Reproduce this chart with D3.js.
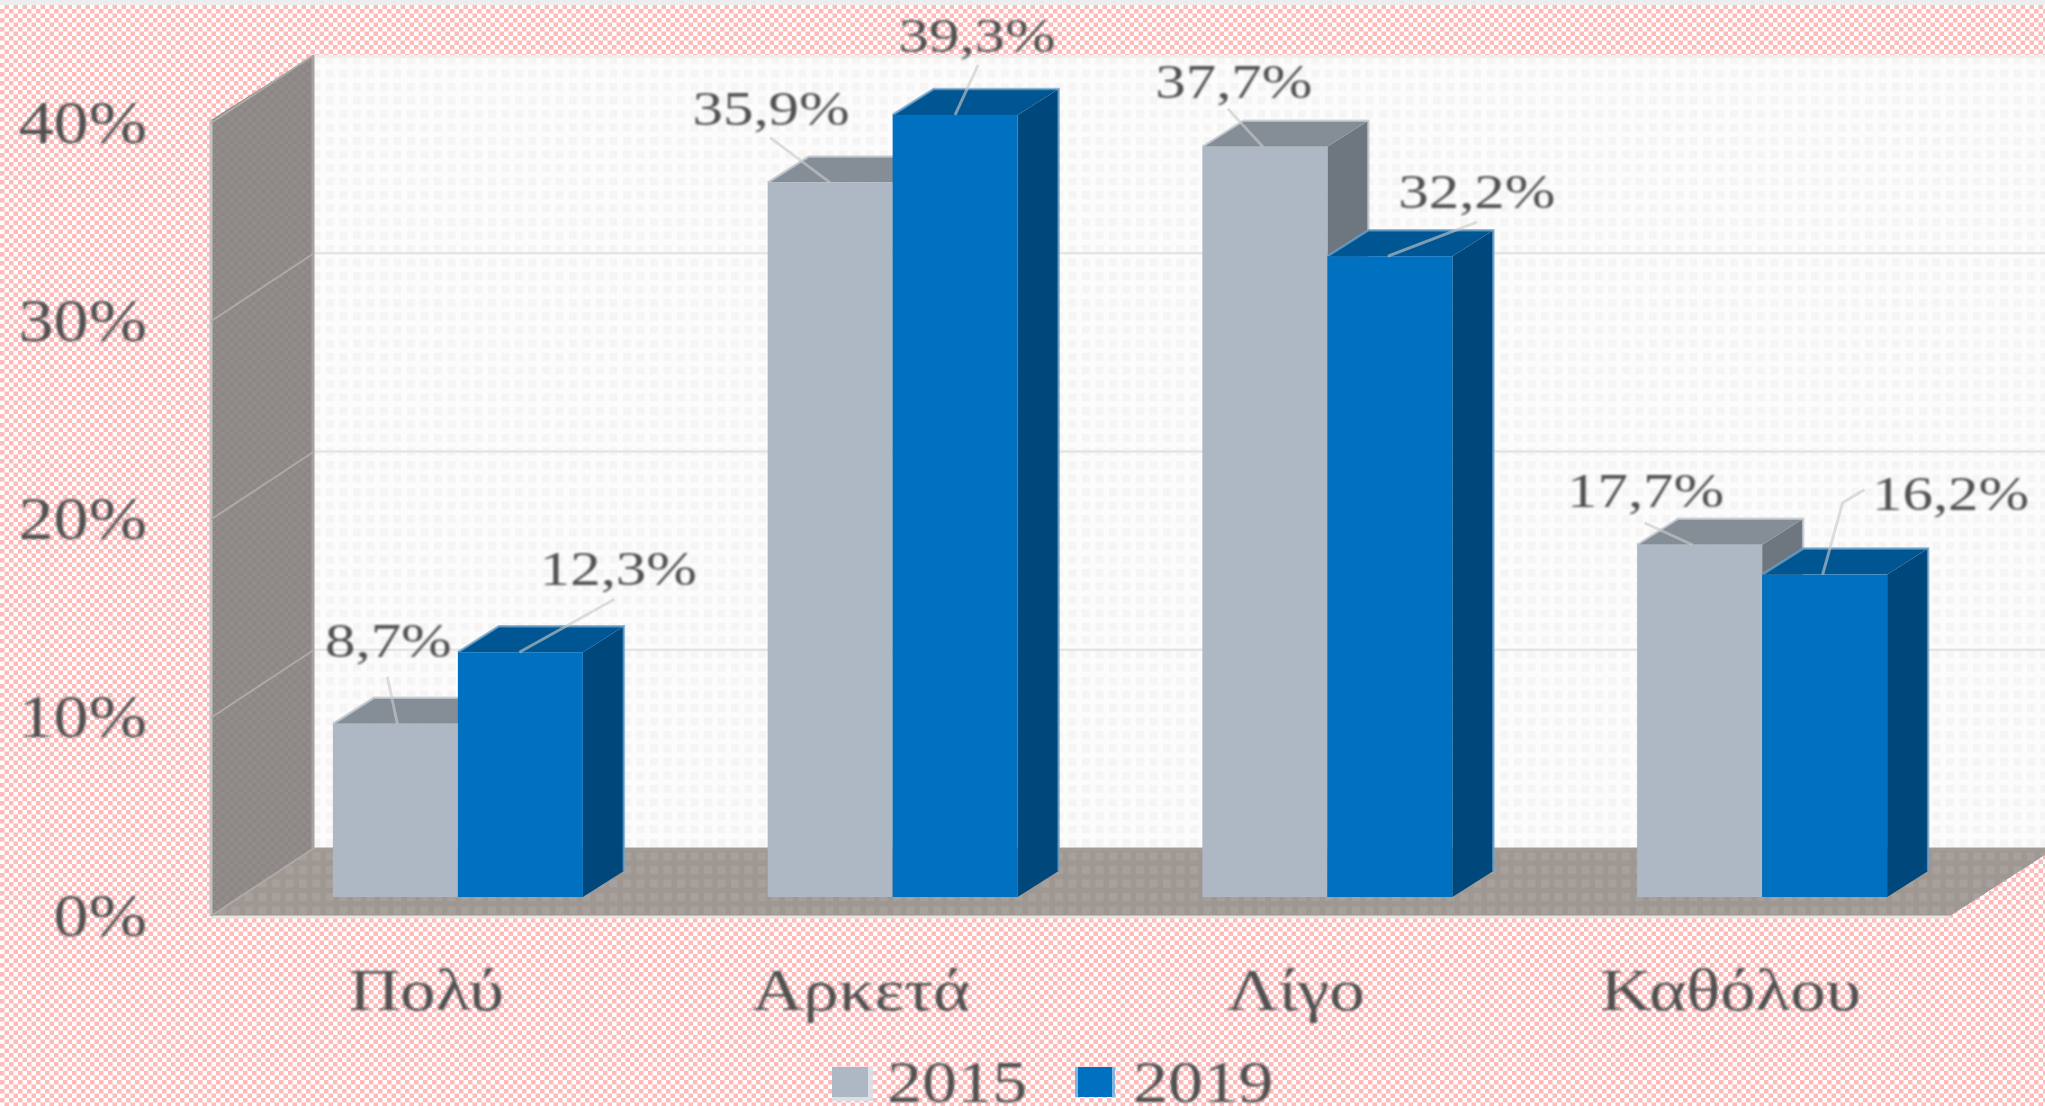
<!DOCTYPE html>
<html><head><meta charset="utf-8">
<script src="https://cdn.jsdelivr.net/npm/d3@7"></script>
<style>html,body{margin:0;padding:0;background:#fff;overflow:hidden}svg{display:block}
text{font-family:"Liberation Serif",serif;fill:#515151}</style></head>
<body><svg id="c" width="2045" height="1106"></svg>
<script>
const categories = ["Πολύ","Αρκετά","Λίγο","Καθόλου"];
const years = ["2015","2019"];
const values2015 = [8.7,35.9,37.7,17.7];
const values2019 = [12.3,39.3,32.2,16.2];
const valueTicks = [0,10,20,30,40];
const labelOffsets2015 = [[-7,-67],[-59,-58],[-31,-49],[-54,-38]];
const labelOffsets2019 = [[98,-67],[22,-63],[87,-48],[126,-65]];
const leaders2015 = [[[2,0],[-8,-47]],[[0,0],[-60,-45]],[[-2,0],[-37,-38]],[[-7,0],[-55,-22]]];
const leaders2019 = [[[-1,0],[94,-53]],[[0,0],[23,-50]],[[-2,0],[87,-34]],[[-2,0],[18,-72],[40,-85]]];

const W=2045,H=1106;
const svg=d3.select("#c");
const defs=svg.append("defs");
function checker(id,a,b,s){const p=defs.append("pattern").attr("id",id).attr("width",2*s).attr("height",2*s).attr("patternUnits","userSpaceOnUse");
 p.append("rect").attr("width",2*s).attr("height",2*s).attr("fill",a);
 p.append("rect").attr("width",s).attr("height",s).attr("fill",b);
 p.append("rect").attr("x",s).attr("y",s).attr("width",s).attr("height",s).attr("fill",b);}
function dots(id,a,b,t,s){const p=defs.append("pattern").attr("id",id).attr("width",t).attr("height",t).attr("patternUnits","userSpaceOnUse");
 p.append("rect").attr("width",t).attr("height",t).attr("fill",a);
 p.append("rect").attr("x",2).attr("y",2).attr("width",s).attr("height",s).attr("fill",b);}
checker("pink","#ffffff","#ffbaba",4.5);
checker("sideP","#928d8a","#8c8784",4.5);
dots("wall","#fcfcfc","#f7f5f4",13.5,8);
dots("floor","#9e9792","#a7a19d",13.5,8);
defs.append("filter").attr("id","soft").attr("x","-5%").attr("y","-20%").attr("width","110%").attr("height","140%")
 .append("feGaussianBlur").attr("stdDeviation",0.8);

// scales
const x=d3.scaleBand().domain(categories).range([211,1950]);
const yFront=d3.scaleLinear().domain([0,40]).range([916,123]);
const yBack=d3.scaleLinear().domain([0,40]).range([848,55]);
const yBar=d3.scaleLinear().domain([0,40]).range([897,101]);
const inner=d3.scaleBand().domain(years).range([-95.5,154.5]);
const pathLine=d3.line();
const poly=(pts,fill,parent=svg)=>parent.append("path").attr("d",pathLine(pts)+"Z").attr("fill",fill);

// background
svg.append("rect").attr("width",W).attr("height",H).attr("fill","url(#pink)");
svg.append("rect").attr("width",W).attr("height",5).attr("fill","#eeeeee");

// walls and floor
const xf=x.range()[0],xb=314,xr=x.range()[1];
svg.append("rect").attr("x",xb).attr("y",yBack(40)).attr("width",W-xb).attr("height",yBack(0)-yBack(40)).attr("fill","url(#wall)");
svg.append("rect").attr("x",xb).attr("y",yBack(40)).attr("width",W-xb).attr("height",3).attr("fill","#eeeeee");
svg.selectAll(".grid").data(valueTicks.slice(1,4)).join("line").attr("class","grid")
 .attr("x1",xb).attr("x2",W).attr("y1",d=>yBack(d)).attr("y2",d=>yBack(d))
 .attr("stroke","#e6e5e5").attr("stroke-width",2.5);
poly([[xf,yFront(0)],[xb,yBack(0)],[W,yBack(0)],[W,855],[xr,yFront(0)]],"url(#floor)");
svg.append("line").attr("x1",xb).attr("x2",W).attr("y1",yBack(0)+1).attr("y2",yBack(0)+1).attr("stroke","#a39d98").attr("stroke-width",3);
svg.append("line").attr("x1",xf).attr("x2",xr).attr("y1",yFront(0)+1).attr("y2",yFront(0)+1).attr("stroke","#e6e2e0").attr("stroke-width",3);
poly([[xf,yFront(0)],[xf,yFront(40)-3],[xb,yBack(40)],[xb,yBack(0)]],"url(#sideP)");
svg.append("line").attr("x1",xf).attr("x2",xf).attr("y1",yFront(40)-3).attr("y2",yFront(0)).attr("stroke","#c4c2c0").attr("stroke-width",3);
svg.append("line").attr("x1",xb-1).attr("x2",xb-1).attr("y1",yBack(40)).attr("y2",yBack(0)).attr("stroke","#a5a19e").attr("stroke-width",3);
svg.selectAll(".sgrid").data(valueTicks).join("line").attr("class","sgrid")
 .attr("x1",xf).attr("x2",xb).attr("y1",d=>yFront(d)).attr("y2",d=>yBack(d))
 .attr("stroke","#aeaaa7").attr("stroke-width",2);

// 3-D bars
const depthX=41,depthY=-26,barW=inner.bandwidth();
const palette={ "2015":{front:"#adb8c4",top:"#858d97",side:"#6e767f",edge:"#c3cad2"},
                "2019":{front:"#0070c0",top:"#005693",side:"#00477c",edge:"#6fa3c9"} };
const rows=[];
categories.forEach((c,i)=>{
 rows.push({c,i,year:"2015",v:values2015[i],off:labelOffsets2015[i],lead:leaders2015[i]});
 rows.push({c,i,year:"2019",v:values2019[i],off:labelOffsets2019[i],lead:leaders2019[i]});
});
const centre=d=>x(d.c)+x.bandwidth()/2+inner(d.year)+barW/2;
const barsG=svg.append("g");
rows.forEach(d=>{
 const x0=x(d.c)+x.bandwidth()/2+inner(d.year),x1=x0+barW,y0=yBar(0),yv=yBar(d.v),k=palette[d.year];
 const g=barsG.append("g");
 poly([[x1,yv],[x1+depthX,yv+depthY],[x1+depthX,y0+depthY],[x1,y0]],k.side,g);
 poly([[x0,yv],[x0+depthX,yv+depthY],[x1+depthX,yv+depthY],[x1,yv]],k.top,g);
 g.append("path").attr("d",pathLine([[x0,yv],[x0+depthX,yv+depthY],[x1+depthX,yv+depthY],[x1+depthX,y0+depthY]]))
  .attr("fill","none").attr("stroke",k.edge).attr("stroke-width",2.5).attr("opacity",.75);
 g.append("rect").attr("x",x0).attr("y",yv).attr("width",barW).attr("height",y0-yv).attr("fill",k.front);
});

// leaders
svg.append("g").selectAll("path").data(rows).join("path")
 .attr("d",d=>pathLine(d.lead.map(p=>[centre(d)+p[0],yBar(d.v)+p[1]])))
 .attr("fill","none").attr("stroke","#c9c9c9").attr("stroke-opacity",.62).attr("stroke-width",3);

// text layer
const txt=svg.append("g").attr("filter","url(#soft)");
const fmt=v=>v.toFixed(1).replace(".",",")+"%";
txt.append("g").selectAll("text").data(rows).join("text")
 .attr("text-anchor","middle").attr("font-size",48.5)
 .attr("transform",d=>`translate(${centre(d)+d.off[0]},${yBar(d.v)+d.off[1]}) scale(1.255,1)`)
 .text(d=>fmt(d.v));

const yAxis=d3.axisLeft(yFront).tickValues(valueTicks).tickFormat(d=>d+"%").tickSize(0).tickPadding(0);
const ya=txt.append("g").attr("transform","translate(147,0)").call(yAxis);
ya.select(".domain").remove();
ya.selectAll("text").attr("x",0).attr("dy",0).attr("y",19).attr("text-anchor","end")
  .attr("font-size",62).attr("font-family","Liberation Serif").attr("transform","scale(1.13,1)");

const xAxis=d3.axisBottom(x).tickSize(0).tickPadding(0);
const xa=txt.append("g").attr("transform","translate(-2,1010)").call(xAxis);
xa.select(".domain").remove();
xa.selectAll("text").attr("y",0).attr("dy",0).attr("text-anchor","middle")
  .attr("font-size",60).attr("font-family","Liberation Serif").attr("transform","scale(1.185,1)");

// legend
const legendX=d3.scalePoint().domain(years).range([832,1078]);
const leg=svg.append("g").selectAll("g").data(years).join("g").attr("transform",d=>`translate(${legendX(d)},1067)`);
leg.append("rect").attr("x",d=>d==="2015"?0:-3).attr("y",0).attr("width",d=>d==="2015"?41:40).attr("height",d=>d==="2015"?34:30)
 .attr("fill",d=>d==="2015"?"#dcdfe5":"#7fb3e0");
leg.append("rect").attr("width",d=>d==="2015"?36:34).attr("height",30).attr("fill",d=>palette[d].front);
const lt=svg.append("g").attr("filter","url(#soft)");
lt.selectAll("text").data(years).join("text").attr("font-size",60)
 .attr("transform",d=>`translate(${legendX(d)+55},1102) scale(1.17,1)`).text(d=>d);
</script></body></html>
